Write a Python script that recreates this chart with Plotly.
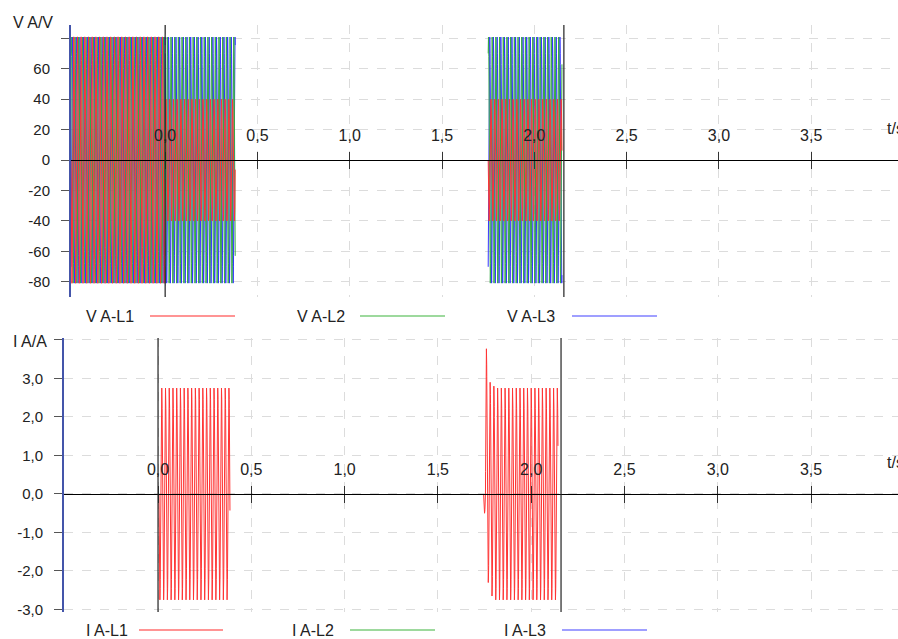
import numpy as np
import plotly.graph_objects as go

# ---------------- data ----------------
FREQ_HZ = 50.0
SAMPLE_RATE = 2000.0

# voltage recording segments (s) and peak values (V) per phase
V_SEG_START = [-0.51, 0.0, 1.75]
V_SEG_END = [0.0, 0.38, 2.15]
V_L1_PEAK = [81.0, 40.0, 40.0]
V_L2_PEAK = [81.0, 81.0, 81.0]
V_L3_PEAK = [81.0, 81.0, 81.0]

# current recording segments (s) and steady peak values (A)
I_SEG_START = [0.005, 1.745]
I_SEG_END = [0.386, 2.144]
I_L1_PEAK = [2.75, 2.75]
# peaks of the first half-cycles at each burst onset (A)
I_L1_ONSET_PEAKS = [[], [-0.5, 3.77, -2.3, 2.9, -2.65, 2.8]]

CURSOR_T = [0.0, 2.16]

X_TICKS = [0.0, 0.5, 1.0, 1.5, 2.0, 2.5, 3.0, 3.5]
X_TICK_TEXT = ["0,0", "0,5", "1,0", "1,5", "2,0", "2,5", "3,0", "3,5"]
V_TICKS = [-80, -60, -40, -20, 0, 20, 40, 60, 80]
V_TICK_TEXT = ["-80", "-60", "-40", "-20", "0", "20", "40", "60", ""]
I_TICKS = [-3, -2, -1, 0, 1, 2, 3, 4]
I_TICK_TEXT = ["-3,0", "-2,0", "-1,0", "0,0", "1,0", "2,0", "3,0", ""]

V_NAMES = ["V A-L1", "V A-L2", "V A-L3"]
I_NAMES = ["I A-L1", "I A-L2", "I A-L3"]
PHASE_COLORS = ["#ff3434", "#35ab45", "#3535ff"]
LEGEND_COLORS = ["rgba(255,60,60,0.55)", "rgba(60,180,60,0.5)", "rgba(80,80,255,0.55)"]

W, H = 898, 639


def phase_wave(starts, ends, peaks, shift_deg):
    xs, ys = [], []
    for s, e, a in zip(starts, ends, peaks):
        t = np.arange(s, e, 1.0 / SAMPLE_RATE)
        y = a * np.sin(2 * np.pi * FREQ_HZ * t + np.deg2rad(shift_deg))
        xs += list(t) + [None]
        ys += list(y) + [None]
    return xs, ys


def current_wave(starts, ends, peaks, onsets):
    xs, ys = [], []
    for s, e, a, onset in zip(starts, ends, peaks, onsets):
        t = np.arange(s, e, 1.0 / SAMPLE_RATE)
        u = 2 * FREQ_HZ * (t - s)
        k = np.floor(u).astype(int)
        frac = u - k
        y = np.empty_like(t)
        for i in range(len(t)):
            if k[i] < len(onset):
                amp = onset[k[i]]
            else:
                amp = a if (k[i] % 2 == 1) else -a
            y[i] = amp * np.sin(np.pi * frac[i])
        xs += list(t) + [None]
        ys += list(y) + [None]
    return xs, ys


def px_x(p):
    return p / W


def px_y(p):
    return 1 - p / H


fig = go.Figure()

# voltage traces (L3, L2 under, L1 on top)
v_peaks = [V_L1_PEAK, V_L2_PEAK, V_L3_PEAK]
shifts = [0.0, -120.0, 120.0]
for idx in [2, 1, 0]:
    x, y = phase_wave(V_SEG_START, V_SEG_END, v_peaks[idx], shifts[idx])
    fig.add_trace(go.Scatter(x=x, y=y, mode="lines", name=V_NAMES[idx],
                             line=dict(color=PHASE_COLORS[idx], width=1),
                             xaxis="x", yaxis="y", showlegend=False,
                             hoverinfo="skip"))

x, y = current_wave(I_SEG_START, I_SEG_END, I_L1_PEAK, I_L1_ONSET_PEAKS)
fig.add_trace(go.Scatter(x=x, y=y, mode="lines", name=I_NAMES[0],
                         line=dict(color=PHASE_COLORS[0], width=1),
                         xaxis="x2", yaxis="y2", showlegend=False,
                         hoverinfo="skip"))
# carriers for the overlay tick axes
fig.add_trace(go.Scatter(x=[None], y=[None], xaxis="x3", yaxis="y", showlegend=False))
fig.add_trace(go.Scatter(x=[None], y=[None], xaxis="x4", yaxis="y2", showlegend=False))

TOP_DOM = [px_y(297), px_y(25)]
BOT_DOM = [px_y(612), px_y(338)]
TOP_ZERO = px_y(160)
BOT_ZERO = px_y(494)
TOP_XR = [-0.51, 3.97]
BOT_XR = [-0.504, 3.966]

FAMILY = "Liberation Sans, Arial, sans-serif"
tickfont_x = dict(family=FAMILY, size=16, color="#222")
tickfont_y = dict(family=FAMILY, size=15, color="#222")
grid = dict(showgrid=True, gridcolor="#dcdcdc", griddash="dash", gridwidth=1)


def xaxis_main(dom, rng, pos):
    return dict(domain=dom, range=rng, anchor="free", position=pos, side="top",
                showline=True, linecolor="black", linewidth=1, automargin=False,
                ticks="outside", ticklen=8, tickcolor="#333", tickwidth=1,
                tickvals=X_TICKS, ticktext=X_TICK_TEXT, tickfont=tickfont_x,
                ticklabelstandoff=5, zeroline=False, **grid)


def xaxis_ticks(over, rng, pos):
    return dict(overlaying=over, range=rng, anchor="free", position=pos, side="bottom",
                showline=False, ticks="outside", ticklen=8, tickcolor="#333",
                tickwidth=1, tickvals=X_TICKS, showticklabels=False, automargin=False,
                showgrid=False, zeroline=False)


def yaxis(dom, rng, anchor, vals, text):
    return dict(domain=dom, range=rng, anchor=anchor, showline=True, automargin=False,
                linecolor="#4455aa", linewidth=2, ticks="outside", ticklen=8,
                tickcolor="#555", tickvals=vals, ticktext=text, tickfont=tickfont_y,
                ticklabelstandoff=8, zeroline=False, **grid)


fig.update_layout(
    width=W, height=H, margin=dict(l=0, r=0, t=0, b=0, pad=0, autoexpand=False),
    paper_bgcolor="white", plot_bgcolor="white", showlegend=False,
    xaxis=xaxis_main([px_x(71), 1], TOP_XR, TOP_ZERO),
    xaxis3=xaxis_ticks("x", TOP_XR, TOP_ZERO),
    yaxis=yaxis(TOP_DOM, [-90, 88.8], "x", V_TICKS, V_TICK_TEXT),
    xaxis2=xaxis_main([px_x(64), 1], BOT_XR, BOT_ZERO),
    xaxis4=xaxis_ticks("x2", BOT_XR, BOT_ZERO),
    yaxis2=yaxis(BOT_DOM, [-3.065, 4.05], "x2", I_TICKS, I_TICK_TEXT),
)

shapes = []
for xr, yr in [("x", "y domain"), ("x2", "y2 domain")]:
    for c in CURSOR_T:
        shapes.append(dict(type="line", xref=xr, yref=yr, x0=c, x1=c, y0=0, y1=1,
                           line=dict(color="#222", width=1.2)))

anns = []
font_txt = dict(family=FAMILY, size=16, color="#222")
anns.append(dict(text="V A/V", xref="paper", yref="paper", x=px_x(11), y=px_y(23),
                 xanchor="left", yanchor="middle", showarrow=False, font=font_txt))
anns.append(dict(text="I A/A", xref="paper", yref="paper", x=px_x(11), y=px_y(341),
                 xanchor="left", yanchor="middle", showarrow=False, font=font_txt))
for yy in [128, 462]:
    anns.append(dict(text="t/s", xref="paper", yref="paper", x=px_x(885), y=px_y(yy),
                     xanchor="left", yanchor="middle", showarrow=False, font=font_txt))

# manual legends (text then line)
V_LEG_TEXT_X = [110, 321, 531]
V_LEG_LINE = [(150, 235), (360, 445), (572, 657)]
I_LEG_TEXT_X = [107, 313, 525]
I_LEG_LINE = [(139, 223), (350, 435), (562, 647)]
for names, tx, lines, yy in [(V_NAMES, V_LEG_TEXT_X, V_LEG_LINE, 316),
                             (I_NAMES, I_LEG_TEXT_X, I_LEG_LINE, 630)]:
    for i in range(3):
        anns.append(dict(text=names[i], xref="paper", yref="paper", x=px_x(tx[i]),
                         y=px_y(yy), xanchor="center", yanchor="middle",
                         showarrow=False, font=font_txt))
        shapes.append(dict(type="line", xref="paper", yref="paper",
                           x0=px_x(lines[i][0]), x1=px_x(lines[i][1]),
                           y0=px_y(yy), y1=px_y(yy),
                           line=dict(color=LEGEND_COLORS[i], width=2)))

fig.update_layout(shapes=shapes, annotations=anns)
fig.write_html(
    "out.html",
    config={"displayModeBar": False},
    post_script="document.body.style.margin='0';document.body.style.overflow='hidden';",
)
